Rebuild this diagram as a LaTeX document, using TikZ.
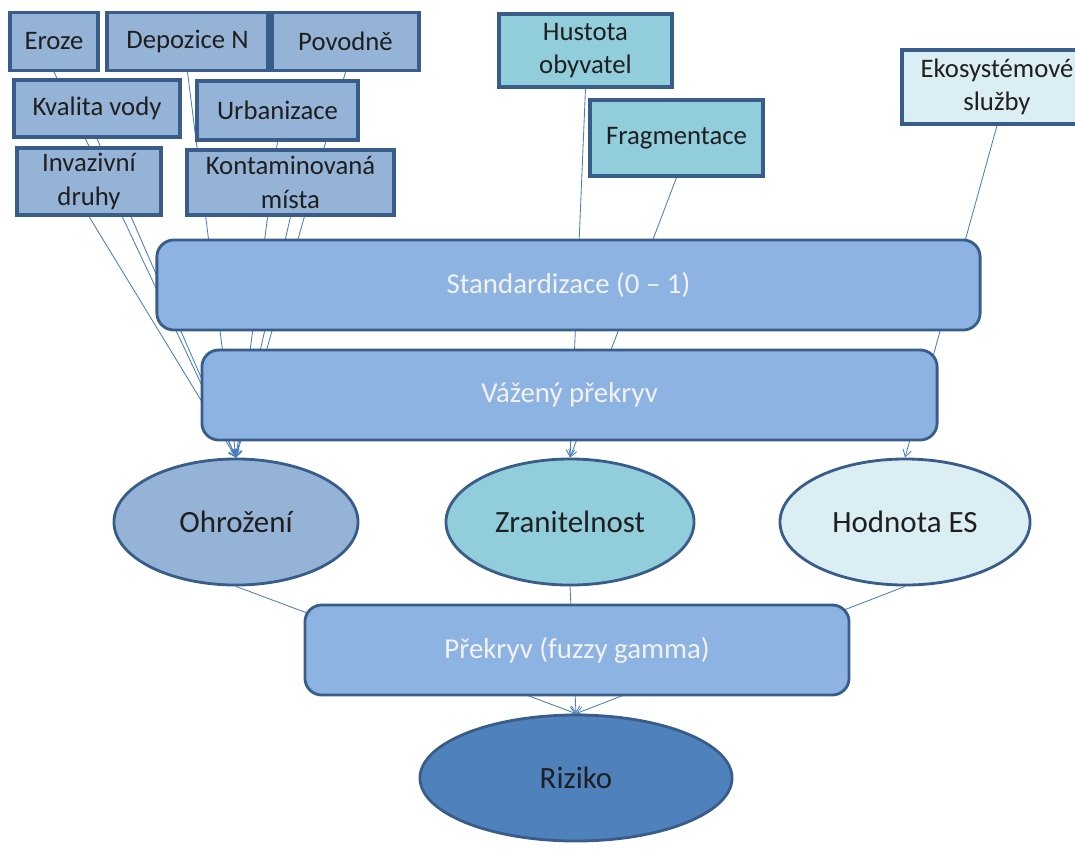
\documentclass[tikz,border=0pt]{standalone}
\usepackage{fontspec}
\setmainfont{Carlito}
\usepackage{xcolor}
\definecolor{rizBorder}{HTML}{385D8A}
\definecolor{rizHazard}{HTML}{95B3D7}
\definecolor{rizVuln}{HTML}{92CDDC}
\definecolor{rizValue}{HTML}{DBEEF4}
\definecolor{rizStep}{HTML}{8DB3E2}
\definecolor{rizRisk}{HTML}{4F81BD}
\definecolor{rizLine}{HTML}{4A7EBB}
\usepackage{tikz}
\usetikzlibrary{arrows.meta,backgrounds,shapes.geometric}

\begin{document}
\begin{tikzpicture}[x=0.025cm,y=-0.025cm,>={Straight Barb[length=5pt,width=6pt]}]
  \tikzset{
    inbox/.style={
      draw=rizBorder,
      line width=2.2pt,
      inner sep=0pt,
      align=center,
      font=\fontsize{19}{24}\selectfont,
      text=black!88
    },
    stepbox/.style={
      draw=rizBorder,
      fill=rizStep,
      line width=2pt,
      rounded corners=12pt,
      minimum height=2.25cm,
      font=\fontsize{20.5}{24}\selectfont,
      text=white!95!black
    },
    outell/.style={
      ellipse,
      draw=rizBorder,
      line width=2pt,
      inner sep=0pt,
      minimum height=3.15cm,
      font=\fontsize{22}{26}\selectfont,
      text=black!88
    },
    link/.style={rizLine,line width=0.6pt}
  }
  \path[use as bounding box] (0,0) rectangle (1075,848);
  \clip (0,0) rectangle (1075,848);

  \node[inbox,fill=rizHazard,minimum width=2.2cm,minimum height=1.45cm] (eroze) at (54,41.5) {Eroze};
  \node[inbox,fill=rizHazard,minimum width=4.025cm,minimum height=1.45cm] (depozice) at (187.5,41.5) {Depozice N};
  \node[inbox,fill=rizHazard,minimum width=3.675cm,minimum height=1.45cm] (povodne) at (345.5,41.5) {Povodně};
  \node[inbox,fill=rizHazard,minimum width=4.15cm,minimum height=1.425cm] (kvalita) at (97,108.5) {Kvalita vody};
  \node[inbox,fill=rizHazard,minimum width=4.025cm,minimum height=1.475cm] (urbanizace) at (277.5,110.5) {Urbanizace};
  \node[inbox,fill=rizHazard,minimum width=3.6cm,minimum height=1.675cm] (invazivni) at (89,181.5) {Invazivní\\druhy};
  \node[inbox,fill=rizHazard,minimum width=5.175cm,minimum height=1.625cm] (kontaminace) at (290.5,182.5) {Kontaminovaná\\místa};

  \node[inbox,fill=rizVuln,minimum width=4.325cm,minimum height=1.825cm] (hustota) at (585.5,50.5) {Hustota\\obyvatel};
  \node[inbox,fill=rizVuln,minimum width=4.325cm,minimum height=1.9cm] (fragmentace) at (676.5,138) {Fragmentace};
  \node[inbox,fill=rizValue,minimum width=4.75cm,minimum height=1.85cm] (sluzby) at (997,87) {Ekosystémové\\služby};

  \node[stepbox,minimum width=20.575cm] (standard) at (568.5,285) {Standardizace (0 – 1)};
  \node[stepbox,minimum width=18.375cm] (vazeny) at (569.5,395) {Vážený překryv};

  \node[outell,fill=rizHazard,minimum width=6.1cm] (ohrozeni) at (236,522) {Ohrožení};
  \node[outell,fill=rizVuln,minimum width=6.2cm] (zranitelnost) at (570,522) {Zranitelnost};
  \node[outell,fill=rizValue,minimum width=6.25cm] (hodnota) at (905,522) {Hodnota ES};

  \node[stepbox,minimum width=13.6cm] (prekryv) at (577,650) {Překryv (fuzzy gamma)};
  \node[outell,fill=rizRisk,minimum width=7.8cm] (riziko) at (576,778) {Riziko};

  \begin{scope}[on background layer]
    \draw[->,link] (eroze.south) -- (ohrozeni.north);
    \draw[->,link] (depozice.south) -- (ohrozeni.north);
    \draw[->,link] (povodne.south) -- (ohrozeni.north);
    \draw[->,link] (kvalita.south) -- (ohrozeni.north);
    \draw[->,link] (urbanizace.south) -- (ohrozeni.north);
    \draw[->,link] (invazivni.south) -- (ohrozeni.north);
    \draw[->,link] (kontaminace.south) -- (ohrozeni.north);
    \draw[->,link] (hustota.south) -- (zranitelnost.north);
    \draw[->,link] (fragmentace.south) -- (zranitelnost.north);
    \draw[->,link] (sluzby.south) -- (hodnota.north);
    \draw[->,link] (ohrozeni.south) -- (riziko.north);
    \draw[->,link] (zranitelnost.south) -- (riziko.north);
    \draw[->,link] (hodnota.south) -- (riziko.north);
  \end{scope}
\end{tikzpicture}
\end{document}
